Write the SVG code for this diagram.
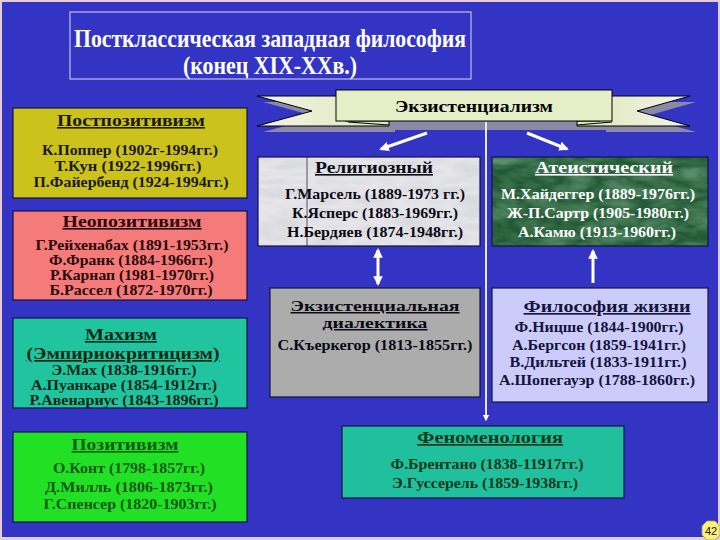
<svg xmlns="http://www.w3.org/2000/svg" width="720" height="540" viewBox="0 0 720 540">
<style>
text{font-family:"Liberation Serif","Times New Roman",serif;font-weight:bold;text-anchor:middle}
.t{font-size:26px;fill:#ffffff}
.h{font-size:16px;text-decoration:underline}
.h2{font-size:16.5px;text-decoration:underline}
.h3{font-size:15px;text-decoration:underline}
.l{font-size:14.5px}
.box{stroke:#14143c;stroke-width:1.2}
.arr{stroke:#ffffff;stroke-width:3;fill:none}
.rib{stroke:#000000;stroke-width:1}
.sh{fill:#8a8aa6}
</style>
<defs>
<marker id="ah" viewBox="0 0 10 10" refX="8" refY="5" markerWidth="3.2" markerHeight="3.2" orient="auto-start-reverse">
<path d="M0,0 L10,5 L0,10 z" fill="#ffffff"/>
</marker>
<linearGradient id="tailL" x1="0" y1="0" x2="1" y2="0">
<stop offset="0" stop-color="#f2f4ea"/><stop offset="1" stop-color="#dfe7b6"/>
</linearGradient>
<linearGradient id="tailR" x1="1" y1="0" x2="0" y2="0">
<stop offset="0" stop-color="#f2f4ea"/><stop offset="1" stop-color="#dfe7b6"/>
</linearGradient>
<filter id="marbleW" x="0" y="0" width="100%" height="100%">
<feTurbulence type="turbulence" baseFrequency="0.02 0.07" numOctaves="3" seed="4"/>
<feColorMatrix type="matrix" values="0 0 0 0 0.55 0 0 0 0 0.56 0 0 0 0 0.6 0.9 0 0 0 0"/>
<feComposite in2="SourceGraphic" operator="in"/>
</filter>
<filter id="marbleG" x="0" y="0" width="100%" height="100%">
<feTurbulence type="turbulence" baseFrequency="0.025 0.06" numOctaves="3" seed="7"/>
<feColorMatrix type="matrix" values="0 0 0 0 0.35 0 0 0 0 0.62 0 0 0 0 0.42 0.9 0 0 0 0"/>
<feComposite in2="SourceGraphic" operator="in"/>
</filter>
</defs>

<rect x="0" y="0" width="720" height="540" fill="#e6ccda"/>
<rect x="2" y="2" width="716" height="535" fill="#3434c4"/>

<g id="title">
<rect x="70" y="12" width="401" height="67" fill="none" stroke="#d8d8f0" stroke-width="1"/>
<text class="t" x="270" y="47" textLength="392" lengthAdjust="spacingAndGlyphs">Постклассическая западная философия</text>
<text class="t" x="270" y="74" textLength="174" lengthAdjust="spacingAndGlyphs">(конец XIX-XXв.)</text>
</g>

<g id="existentialism">
<polygon class="sh" points="263,102 351,102 351,127 395,127 395,132 263,132 318,117"/>
<rect class="sh" x="342" y="96" width="276" height="34"/>
<polygon class="sh" points="696,102 606,102 606,132 696,132 643,117"/>
<polygon class="rib" fill="url(#tailL)" points="257,96 345,96 345,121 389,121 389,126 257,126 312,111"/>
<polygon class="rib" fill="url(#tailR)" points="690,96 600,96 600,121 577,121 577,126 690,126 637,111"/>
<line x1="348" y1="122" x2="389" y2="125" stroke="#000" stroke-width="1"/>
<line x1="577" y1="125" x2="612" y2="122" stroke="#000" stroke-width="1"/>
<rect class="rib" x="336" y="90" width="276" height="31" fill="#e6eec8"/>
<text x="474" y="112" style="font-size:17px" fill="#000" textLength="158" lengthAdjust="spacingAndGlyphs">Экзистенциализм</text>
</g>

<g id="postpositivism">
<rect class="box" x="13" y="108" width="234" height="90" fill="#ccc21c"/>
<text class="h" x="131" y="126" fill="#1a1a10" textLength="148" lengthAdjust="spacingAndGlyphs">Постпозитивизм</text>
<text class="l" x="130" y="155" fill="#1a1a10" textLength="176" lengthAdjust="spacingAndGlyphs">К.Поппер (1902г-1994гг.)</text>
<text class="l" x="128" y="171" fill="#1a1a10" textLength="147" lengthAdjust="spacingAndGlyphs">Т.Кун (1922-1996гг.)</text>
<text class="l" x="131" y="187" fill="#1a1a10" textLength="195" lengthAdjust="spacingAndGlyphs">П.Файербенд (1924-1994гг.)</text>
</g>

<g id="neopositivism">
<rect class="box" x="13" y="211" width="234" height="89" fill="#f57a7a"/>
<text class="h" x="132" y="227" fill="#2a0a0a" textLength="139" lengthAdjust="spacingAndGlyphs">Неопозитивизм</text>
<text class="l" x="132" y="250" fill="#2a0a0a" textLength="193" lengthAdjust="spacingAndGlyphs">Г.Рейхенабах (1891-1953гг.)</text>
<text class="l" x="131" y="265" fill="#2a0a0a" textLength="164" lengthAdjust="spacingAndGlyphs">Ф.Франк (1884-1966гг.)</text>
<text class="l" x="132" y="280" fill="#2a0a0a" textLength="164" lengthAdjust="spacingAndGlyphs">Р.Карнап (1981-1970гг.)</text>
<text class="l" x="131" y="295" fill="#2a0a0a" textLength="163" lengthAdjust="spacingAndGlyphs">Б.Рассел (1872-1970гг.)</text>
</g>

<g id="machism">
<rect class="box" x="13" y="318" width="234" height="90" fill="#20c49e"/>
<text class="h2" x="121" y="340" fill="#0a2a18" textLength="72" lengthAdjust="spacingAndGlyphs">Махизм</text>
<text class="h2" x="123" y="359" fill="#0a2a18" textLength="193" lengthAdjust="spacingAndGlyphs">(Эмпириокритицизм)</text>
<text class="l" x="124" y="375" fill="#0a2a18" textLength="145" lengthAdjust="spacingAndGlyphs">Э.Мах (1838-1916гг.)</text>
<text class="l" x="124" y="390" fill="#0a2a18" textLength="186" lengthAdjust="spacingAndGlyphs">А.Пуанкаре (1854-1912гг.)</text>
<text class="l" x="124" y="405" fill="#0a2a18" textLength="189" lengthAdjust="spacingAndGlyphs">Р.Авенариус (1843-1896гг.)</text>
</g>

<g id="positivism">
<rect class="box" x="13" y="432" width="234" height="90" fill="#22e024"/>
<text class="h" x="125" y="450" fill="#105a14" textLength="107" lengthAdjust="spacingAndGlyphs">Позитивизм</text>
<text class="l" x="129" y="473" fill="#105a14" textLength="152" lengthAdjust="spacingAndGlyphs">О.Конт (1798-1857гг.)</text>
<text class="l" x="129" y="492" fill="#105a14" textLength="168" lengthAdjust="spacingAndGlyphs">Д.Милль (1806-1873гг.)</text>
<text class="l" x="130" y="509" fill="#105a14" textLength="173" lengthAdjust="spacingAndGlyphs">Г.Спенсер (1820-1903гг.)</text>
</g>

<g id="religious">
<rect x="258" y="157" width="222" height="89" fill="#e8e8ec"/>
<rect x="258" y="157" width="222" height="89" fill="#ffffff" filter="url(#marbleW)" opacity="0.8"/>
<line x1="307" y1="157" x2="307" y2="246" stroke="#50506a" stroke-width="1"/>
<rect class="box" x="258" y="157" width="222" height="89" fill="none"/>
<text class="h" x="374" y="173" fill="#0a0a14" textLength="118" lengthAdjust="spacingAndGlyphs">Религиозный</text>
<text class="l" x="375" y="199" fill="#0a0a14" textLength="180" lengthAdjust="spacingAndGlyphs">Г.Марсель (1889-1973 гг.)</text>
<text class="l" x="375" y="218" fill="#0a0a14" textLength="166" lengthAdjust="spacingAndGlyphs">К.Ясперс (1883-1969гг.)</text>
<text class="l" x="375" y="237" fill="#0a0a14" textLength="176" lengthAdjust="spacingAndGlyphs">Н.Бердяев (1874-1948гг.)</text>
</g>

<g id="atheistic">
<rect x="492" y="157" width="216" height="89" fill="#1d5530"/>
<rect x="492" y="157" width="216" height="89" fill="#ffffff" filter="url(#marbleG)" opacity="0.7"/>
<rect class="box" x="492" y="157" width="216" height="89" fill="none"/>
<text class="h" x="604" y="173" fill="#ffffff" textLength="138" lengthAdjust="spacingAndGlyphs">Атеистический</text>
<text class="l" x="598" y="199" fill="#ffffff" textLength="194" lengthAdjust="spacingAndGlyphs">М.Хайдеггер (1889-1976гг.)</text>
<text class="l" x="598" y="218" fill="#ffffff" textLength="182" lengthAdjust="spacingAndGlyphs">Ж-П.Сартр (1905-1980гг.)</text>
<text class="l" x="597" y="237" fill="#ffffff" textLength="158" lengthAdjust="spacingAndGlyphs">А.Камю (1913-1960гг.)</text>
</g>

<g id="dialectics">
<rect class="box" x="270" y="288" width="210" height="109" fill="#acacac"/>
<text class="h3" x="375" y="311" fill="#0a0a14" textLength="169" lengthAdjust="spacingAndGlyphs">Экзистенциальная</text>
<text class="h3" x="375" y="328" fill="#0a0a14" textLength="105" lengthAdjust="spacingAndGlyphs">диалектика</text>
<text class="l" x="375" y="350" fill="#0a0a14" textLength="195" lengthAdjust="spacingAndGlyphs">С.Къеркегор (1813-1855гг.)</text>
</g>

<g id="lifephilosophy">
<rect class="box" x="492" y="288" width="216" height="114" fill="#ccccfa"/>
<text class="h2" x="607" y="312" fill="#14143c" textLength="167" lengthAdjust="spacingAndGlyphs">Философия жизни</text>
<text class="l" x="599" y="332" fill="#14143c" textLength="169" lengthAdjust="spacingAndGlyphs">Ф.Ницше (1844-1900гг.)</text>
<text class="l" x="599" y="350" fill="#14143c" textLength="174" lengthAdjust="spacingAndGlyphs">А.Бергсон (1859-1941гг.)</text>
<text class="l" x="598" y="367" fill="#14143c" textLength="177" lengthAdjust="spacingAndGlyphs">В.Дильтей (1833-1911гг.)</text>
<text class="l" x="597" y="385" fill="#14143c" textLength="196" lengthAdjust="spacingAndGlyphs">А.Шопегауэр (1788-1860гг.)</text>
</g>

<g id="phenomenology">
<rect class="box" x="342" y="426" width="282" height="72" fill="#20c09e"/>
<text class="h2" x="490" y="443" fill="#0a3a1a" textLength="146" lengthAdjust="spacingAndGlyphs">Феноменология </text>
<text class="l" x="487" y="469" fill="#0a3a1a" textLength="193" lengthAdjust="spacingAndGlyphs">Ф.Брентано (1838-11917гг.)</text>
<text class="l" x="485" y="488" fill="#0a3a1a" textLength="186" lengthAdjust="spacingAndGlyphs">Э.Гуссерель (1859-1938гг.)</text>
</g>

<g id="connectors">
<line class="arr" x1="427" y1="133" x2="381" y2="149" marker-end="url(#ah)"/>
<line class="arr" x1="527" y1="133" x2="567" y2="149" marker-end="url(#ah)"/>
<line class="arr" x1="378" y1="250" x2="378" y2="284" marker-start="url(#ah)" marker-end="url(#ah)"/>
<line class="arr" x1="593" y1="283" x2="593" y2="251" marker-end="url(#ah)"/>
<line x1="486" y1="122" x2="486" y2="420" stroke="#e8e8f4" stroke-width="2" marker-end="url(#ah)"/>
</g>

<g id="pagenum">
<polygon points="707,521 715,521 720,526 720,535 715,540 707,540 702,535 702,526" fill="#fff07a" stroke="#9a9a70" stroke-width="0.8"/>
<text x="711" y="535" style="font-family:'Liberation Sans',Arial,sans-serif;font-weight:normal;font-size:11px" fill="#202020">42</text>
</g>
</svg>
